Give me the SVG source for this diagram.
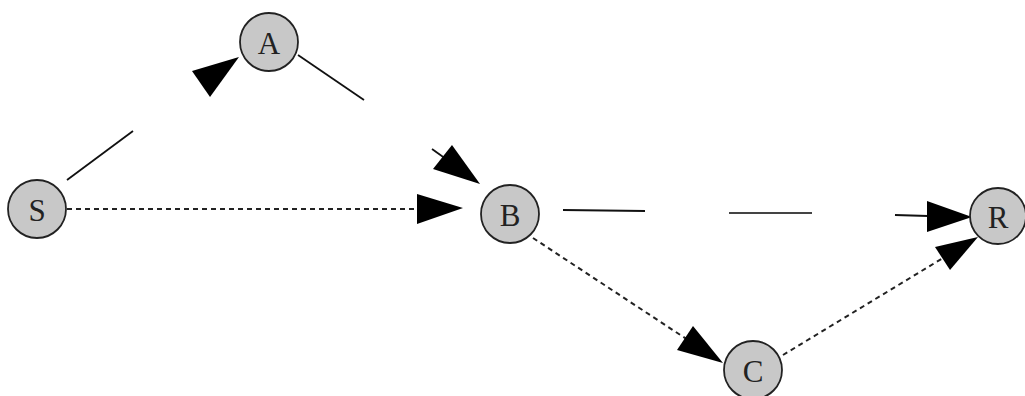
<svg xmlns="http://www.w3.org/2000/svg" width="1025" height="396" viewBox="0 0 1025 396">
<style>
.node circle{fill:#c8c8c8;stroke:#222;stroke-width:1.8}
.node text{font-family:"Liberation Serif",serif;font-size:31px;fill:#222;text-anchor:middle;dominant-baseline:central}
.solid{stroke:#111;stroke-width:1.8;fill:none}
.dash{stroke:#222;stroke-width:2;fill:none;stroke-dasharray:5,4}
.head{fill:#000;stroke:none}
</style>
<rect width="1025" height="396" fill="#fff"/>
<g id="connectors">
<line class="solid" x1="67" y1="180" x2="133" y2="131"/>
<polygon class="head" points="192,71 210,97 239,57"/>
<line class="solid" x1="298" y1="55" x2="364" y2="100"/>
<line class="solid" x1="432" y1="149" x2="446" y2="159"/>
<polygon class="head" points="433,169 452,145 480,184"/>
<line class="dash" x1="67" y1="209" x2="418" y2="209"/>
<polygon class="head" points="417,194 417,224 463,208"/>
<line class="solid" x1="563" y1="210" x2="645" y2="211"/>
<line class="solid" x1="729" y1="213" x2="812" y2="213" style="stroke:#444;stroke-width:2.2"/>
<line class="solid" x1="895" y1="215" x2="928" y2="216"/>
<polygon class="head" points="927,201 927,232 972,217"/>
<line class="dash" x1="533" y1="238" x2="688" y2="340"/>
<polygon class="head" points="677,350 693,326 723,363"/>
<line class="dash" x1="783" y1="355" x2="943" y2="258"/>
<polygon class="head" points="935,247 950,270 978,237"/>
</g>
<g id="S" class="node"><circle cx="37" cy="209" r="29"/><text x="37" y="210">S</text></g>
<g id="A" class="node"><circle cx="269" cy="42" r="29"/><text x="269" y="43">A</text></g>
<g id="B" class="node"><circle cx="510" cy="214" r="29"/><text x="510" y="215">B</text></g>
<g id="C" class="node"><circle cx="753" cy="370" r="29"/><text x="753" y="371">C</text></g>
<g id="R" class="node"><circle cx="998" cy="216" r="28"/><text x="998" y="217">R</text></g>
</svg>
